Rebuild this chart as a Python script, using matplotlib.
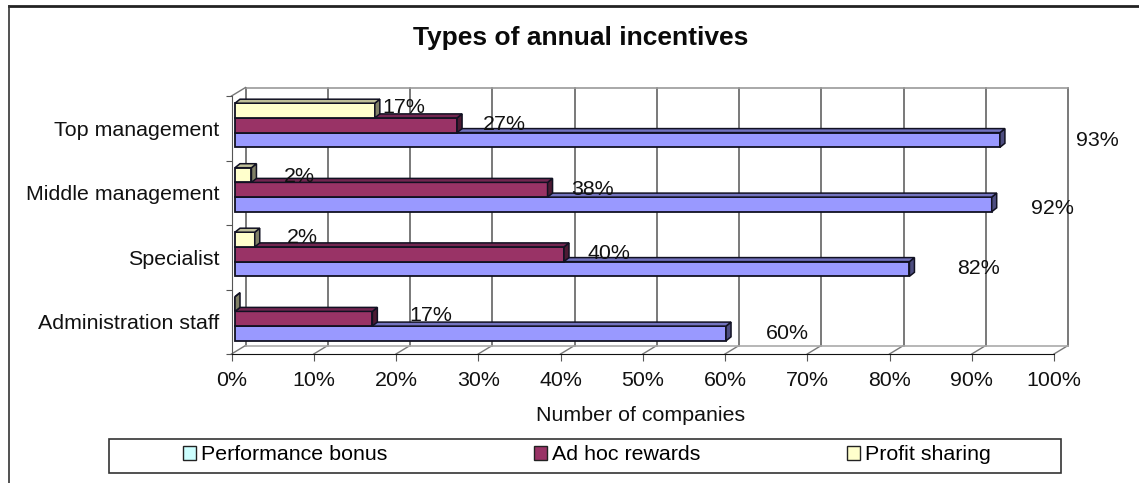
import matplotlib
matplotlib.use("Agg")
import matplotlib.pyplot as plt
from matplotlib.lines import Line2D
from matplotlib.patches import Patch, Rectangle, Polygon

plt.rcParams['font.family'] = ['Liberation Sans', 'DejaVu Sans']

W, H = 1139, 483
FS = 15.4
INK = '#111111'

#data, bottom category first
categories = ['Administration staff', 'Specialist', 'Middle management', 'Top management']
performance_bonus = [59.7, 82, 92, 93]
ad_hoc_rewards = [16.7, 40, 38, 27]
profit_sharing = [0, 2.4, 2, 17]
xticks = [0, 10, 20, 30, 40, 50, 60, 70, 80, 90, 100]
series_names = ['Performance bonus', 'Ad hoc rewards', 'Profit sharing']

#label nudges in px, the original labels sit off their bars
label_dx = {'bonus': [40, 48, 39, 76], 'adhoc': [37, 24, 24, 26], 'profit': [0, 32, 32, 8]}
label_dy = {'bonus': [0, 0, 4, 1], 'adhoc': [-1, 1, 2, 1], 'profit': [0, 2, 5, 1]}

bar_colors = ['#9999FF', '#993366', '#FFFFCC']
side_colors = ['#4D4D80', '#4D1A33', '#808066']
top_colors = ['#7373BF', '#732650', '#BFBF99']
legend_colors = ['#CCFFFF', '#993366', '#FFFFCC']

fig = plt.figure(figsize=(W / 100, H / 100), dpi=100)

# outer chart frame, only top and left show in the crop
fig.add_artist(Line2D([9 / W, 1], [1 - 6 / H, 1 - 6 / H], color='#222222', lw=2))
fig.add_artist(Line2D([9 / W, 9 / W], [0, 1 - 6 / H], color='#333333', lw=1.2))

#axes is the front plane of the fake 3d box
left, right, top, bottom = 231.5, 1054, 96, 354
ax = fig.add_axes([left / W, 1 - bottom / H, (right - left) / W, (bottom - top) / H])
ax.set_xlim(0, 100)
ax.set_ylim(0, 4)
ax.patch.set_alpha(0)
px_x = 100 / (right - left)
px_y = 4 / (bottom - top)
depth_x, depth_y = 14 * px_x, 8.5 * px_y

for s in ['top', 'right']:
    ax.spines[s].set_visible(False)
ax.spines['left'].set_color('#555555')
ax.spines['bottom'].set_color('#111111')

ax.set_xticks(xticks)
ax.set_xticklabels([f'{v}%' for v in xticks], fontsize=FS, color=INK)
ax.set_yticks(range(5))
ax.set_yticklabels([])
ax.set_yticks([i + 0.5 for i in range(4)], minor=True)
ax.set_yticklabels(categories, minor=True, fontsize=FS, color=INK)
ax.tick_params(axis='y', which='minor', length=0, pad=8.5)
ax.tick_params(axis='y', which='major', length=4, color='#555555')
ax.tick_params(axis='x', length=5, color='#555555', pad=7)
ax.set_xlabel('Number of companies', fontsize=FS, color=INK)
ax.xaxis.set_label_coords((641 - left) / (right - left), -(406 - bottom) / (bottom - top))

#back wall and floor
for v in xticks:
    ax.plot([v + depth_x, v + depth_x], [depth_y, 4 + depth_y], color='#555555', lw=1.1, clip_on=False, zorder=1)
    ax.plot([v, v + depth_x], [0, depth_y], color='#777777', lw=1, clip_on=False, zorder=1)
ax.plot([depth_x, 100 + depth_x], [4 + depth_y, 4 + depth_y], color='#999999', lw=1.2, clip_on=False, zorder=1)
ax.plot([depth_x, 100 + depth_x], [depth_y, depth_y], color='#aaaaaa', lw=1.2, clip_on=False, zorder=1)
ax.plot([0, depth_x], [4, 4 + depth_y], color='#777777', lw=1, clip_on=False, zorder=1)

bar_h = 14.7 * px_y
x0 = 3.5 * px_x
lift = 3 * px_y
bar_dx, bar_dy = 5 * px_x, 4 * px_y
EDGE = '#111122'


def draw_series(vals, offset, idx, z):
    for i, v in enumerate(vals):
        y = i + 0.5 + lift + offset
        ax.barh(y, v, height=bar_h, left=x0, color=bar_colors[idx], edgecolor=EDGE, lw=1.3, zorder=z)
        y0, y1 = y - bar_h / 2, y + bar_h / 2
        xe = x0 + v
        ax.add_patch(Polygon([(xe, y0), (xe + bar_dx, y0 + bar_dy), (xe + bar_dx, y1 + bar_dy), (xe, y1)],
                             fc=side_colors[idx], ec=EDGE, lw=1.1, zorder=z, clip_on=False))
        ax.add_patch(Polygon([(x0, y1), (x0 + bar_dx, y1 + bar_dy), (xe + bar_dx, y1 + bar_dy), (xe, y1)],
                             fc=top_colors[idx], ec=EDGE, lw=1.1, zorder=z, clip_on=False))


draw_series(performance_bonus, -bar_h, 0, 3)
draw_series(ad_hoc_rewards, 0, 1, 4)
draw_series(profit_sharing, bar_h, 2, 5)

#value labels
for i in range(4):
    y = i + 0.5 + lift
    ax.text(x0 + performance_bonus[i] + label_dx['bonus'][i] * px_x, y - bar_h - label_dy['bonus'][i] * px_y,
            f'{performance_bonus[i]:.0f}%', fontsize=FS, va='center', ha='left', color=INK, zorder=6, clip_on=False)
    ax.text(x0 + ad_hoc_rewards[i] + label_dx['adhoc'][i] * px_x, y + (2 - label_dy['adhoc'][i]) * px_y,
            f'{ad_hoc_rewards[i]:.0f}%', fontsize=FS, va='center', ha='left', color=INK, zorder=6, clip_on=False)
    if profit_sharing[i] > 0:
        ax.text(x0 + profit_sharing[i] + label_dx['profit'][i] * px_x,
                y + bar_h + (4 - label_dy['profit'][i]) * px_y,
                f'{profit_sharing[i]:.0f}%', fontsize=FS, va='center', ha='left', color=INK, zorder=6, clip_on=False)

fig.text(581 / W, 1 - 45.5 / H, 'Types of annual incentives', fontsize=19, fontweight='bold', color='#0a0a0a',
         ha='center', va='baseline')

#legend box is wider than its content so the frame is its own patch
fig.add_artist(Rectangle((109 / W, 1 - 473 / H), (1061 - 109) / W, 34.5 / H, transform=fig.transFigure,
                         fc='white', ec='#333333', lw=1.2))
handles = [Patch(fc=c, ec='#222222', lw=1) for c in legend_colors]
fig.legend(handles, series_names, ncol=3, loc='center', fontsize=FS, frameon=False,
           bbox_to_anchor=(587 / W, 1 - 455 / H), columnspacing=6.85,
           handlelength=0.6, handleheight=0.6, handletextpad=0.25, borderaxespad=0)

fig.savefig('out.png', dpi=100)
